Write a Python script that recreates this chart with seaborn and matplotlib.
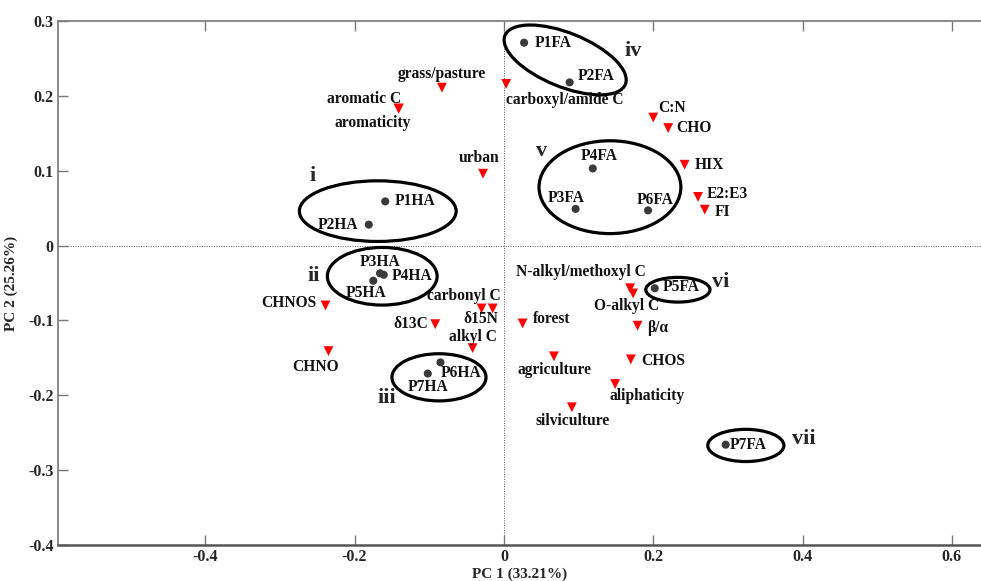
import matplotlib
matplotlib.use('Agg')
import matplotlib.pyplot as plt
from matplotlib.patches import Ellipse
import pandas as pd
import seaborn as sns

# Sample scores (humic / fulvic acids)
sample_names = ['P1FA', 'P2FA', 'P1HA', 'P2HA', 'P3HA', 'P4HA', 'P5HA',
                'P4FA', 'P3FA', 'P6FA', 'P5FA', 'P6HA', 'P7HA', 'P7FA']
sample_pc1 = [0.027, 0.088, -0.159, -0.181, -0.166, -0.161, -0.175,
              0.119, 0.096, 0.193, 0.202, -0.085, -0.102, 0.297]
sample_pc2 = [0.271, 0.218, 0.059, 0.028, -0.037, -0.039, -0.047,
              0.103, 0.049, 0.047, -0.057, -0.156, -0.171, -0.266]

# Variable loadings
var_names = ['grass/pasture', 'aromatic C', 'aromaticity', 'urban', 'carboxyl/amide C',
             'C:N', 'CHO', 'HIX', 'E2:E3', 'FI', 'N-alkyl/methoxyl C', 'O-alkyl C',
             'β/α', 'CHOS', 'aliphaticity', 'silviculture', 'agriculture', 'forest',
             'carbonyl C', 'δ15N', 'δ13C', 'alkyl C', 'CHNOS', 'CHNO']
var_pc1 = [-0.083, -0.141, -0.141, -0.028, 0.003,
           0.200, 0.220, 0.242, 0.260, 0.269, 0.169, 0.173,
           0.179, 0.170, 0.149, 0.091, 0.067, 0.025,
           -0.030, -0.015, -0.092, -0.042, -0.239, -0.235]
var_pc2 = [0.211, 0.183, 0.183, 0.096, 0.216,
           0.171, 0.157, 0.108, 0.065, 0.048, -0.057, -0.064,
           -0.107, -0.152, -0.185, -0.216, -0.148, -0.104,
           -0.084, -0.084, -0.105, -0.137, -0.080, -0.141]

# label offsets in pixels (dx, dy, ha)
sample_offsets = [(11, 0, 'left'), (8, 6, 'left'), (9, 0, 'left'), (-11, 0, 'right'),
                  (0, 11, 'center'), (8, -1, 'left'), (-7, -12, 'center'),
                  (6, 12, 'center'), (-9, 11, 'center'), (7, 10, 'center'),
                  (8, 1, 'left'), (0, -11, 'left'), (0, -13, 'center'), (4, 0, 'left')]
var_offsets = [(0, 14, 'center'), (3, 10, 'right'), (-26, -14, 'center'), (-4, 16, 'center'),
               (0, -16, 'left'), (5, 10, 'left'), (8, 0, 'left'), (10, 0, 'left'),
               (9, 3, 'left'), (10, -2, 'left'), (16, 16, 'right'), (-6, -13, 'center'),
               (10, -2, 'left'), (10, -2, 'left'), (32, -12, 'center'), (1, -14, 'center'),
               (1, -14, 'center'), (10, 4, 'left'), (19, 12, 'right'), (6, -11, 'right'),
               (-7, 0, 'right'), (24, 11, 'right'), (-9, 2, 'right'), (-13, -16, 'center')]

# Cluster outlines: label, centre, width, height, angle, label position
clusters = [
    ('i', (-0.169, 0.046), 0.210, 0.081, 0, (-0.256, 0.093)),
    ('ii', (-0.163, -0.041), 0.147, 0.077, 0, (-0.255, -0.040)),
    ('iii', (-0.087, -0.176), 0.126, 0.063, 0, (-0.157, -0.203)),
    ('iv', (0.082, 0.248), 0.174, 0.072, -22, (0.173, 0.260)),
    ('v', (0.142, 0.078), 0.190, 0.124, 0, (0.051, 0.127)),
    ('vi', (0.233, -0.059), 0.086, 0.033, 0, (0.290, -0.048)),
    ('vii', (0.324, -0.267), 0.102, 0.043, 0, (0.401, -0.258)),
]

samples = pd.DataFrame({'PC1': sample_pc1, 'PC2': sample_pc2, 'name': sample_names})
variables = pd.DataFrame({'PC1': var_pc1, 'PC2': var_pc2, 'name': var_names})

sns.set_style('white')
plt.rcParams['font.family'] = ['Liberation Serif', 'DejaVu Serif']
plt.rcParams['font.weight'] = 'bold'
plt.rcParams['axes.unicode_minus'] = False

fig = plt.figure(figsize=(9.81, 5.81), dpi=100)
ax = fig.add_axes([58 / 981, 36 / 581, 1 - 58 / 981, (545 - 21) / 581])

ax.axvline(0, color='#555555', lw=0.7, ls=(0, (1, 1.5)), zorder=0)
ax.axhline(0, color='#555555', lw=0.7, ls=(0, (1, 1.5)), zorder=0)

sns.scatterplot(data=variables, x='PC1', y='PC2', marker='v', color='#ff0000',
                s=50, edgecolor='none', ax=ax, zorder=3)
sns.scatterplot(data=samples, x='PC1', y='PC2', marker='o', color='#3a3a3a',
                s=34, edgecolor='none', ax=ax, zorder=3)

for df, offs in ((samples, sample_offsets), (variables, var_offsets)):
    for (_, r), (dx, dy, ha) in zip(df.iterrows(), offs):
        ax.annotate(r['name'], (r['PC1'], r['PC2']), xytext=(dx, dy),
                    textcoords='offset pixels', ha=ha, va='center',
                    fontsize=11.2, fontweight='bold', color='#111111', zorder=4)

for lab, c, w, h, ang, lp in clusters:
    ax.add_patch(Ellipse(c, w, h, angle=ang, fill=False, ec='black', lw=2.3, zorder=2))
    ax.text(lp[0], lp[1], lab, fontsize=16, fontweight='bold', ha='center', va='center')

ax.set_xlim(-0.5973, 0.639)
ax.set_ylim(-0.4, 0.3)
xt = [-0.4, -0.2, 0, 0.2, 0.4, 0.6]
yt = [-0.4, -0.3, -0.2, -0.1, 0, 0.1, 0.2, 0.3]
ax.set_xticks(xt)
ax.set_xticklabels(['-0.4', '-0.2', '0', '0.2', '0.4', '0.6'])
ax.set_yticks(yt)
ax.set_yticklabels(['-0.4', '-0.3', '-0.2', '-0.1', '0', '0.1', '0.2', '0.3'])
ax.tick_params(direction='in', length=7, width=1, color='#777777',
               labelsize=11.5, top=True, left=True, bottom=True, right=False, pad=3)
for lbl in ax.get_xticklabels() + ax.get_yticklabels():
    lbl.set_fontweight('bold')

for side in ['left', 'top', 'bottom']:
    ax.spines[side].set_color('#777777')
    ax.spines[side].set_linewidth(1.2)
ax.spines['bottom'].set_linewidth(1.8)
ax.spines['bottom'].set_color('#555555')
ax.spines['right'].set_visible(False)

ax.set_xlabel('PC 1 (33.21%)', fontsize=11, fontweight='bold')
ax.xaxis.set_label_coords(0.5, -23 / 524)
ax.set_ylabel('PC 2 (25.26%)', fontsize=11, fontweight='bold')
ax.yaxis.set_label_coords(-40 / 923, 0.5)

fig.savefig('out.png', dpi=100)
